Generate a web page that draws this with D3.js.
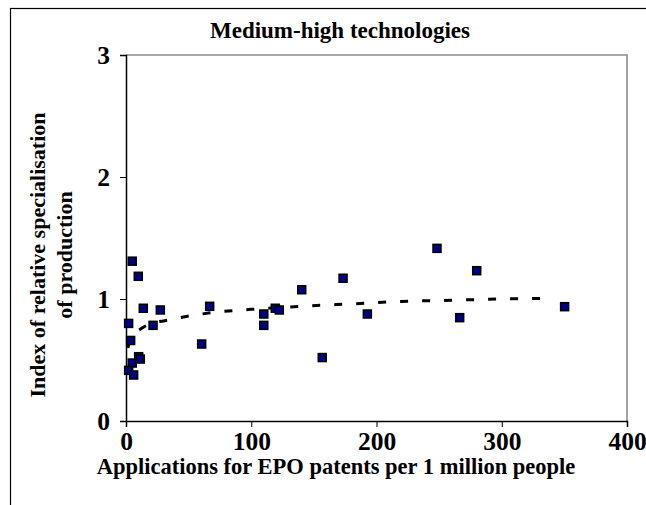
<!DOCTYPE html>
<html>
<head>
<meta charset="utf-8">
<script src="https://cdn.jsdelivr.net/npm/d3@7"></script>
<style>
  body { margin: 0; background: #fff; }
</style>
</head>
<body>
<svg id="chart" width="646" height="505"></svg>
<script>
// patents per 1 million people (x) vs specialisation index (y)
var patents = [5, 9.8, 2.1, 13.8, 27.4, 21.6, 3.7, 10.1, 11.4, 5, 2.1, 6.1, 60.4, 66.8, 110, 110, 119.2, 122.4, 140.3, 173.3, 156.7, 192.7, 248.3, 280, 266.4, 350.2];
var specialisation = [1.31, 1.186, 0.80, 0.924, 0.91, 0.784, 0.66, 0.527, 0.508, 0.475, 0.415, 0.377, 0.631, 0.94, 0.877, 0.784, 0.924, 0.91, 1.076, 1.17, 0.52, 0.877, 1.415, 1.232, 0.847, 0.937];

// trend line
var trendX = [1.5, 3, 6, 11, 20, 30, 50, 70, 100, 140, 180, 220, 260, 300, 340];
var trendY = [0.60, 0.66, 0.71, 0.75, 0.80, 0.82, 0.86, 0.89, 0.915, 0.94, 0.96, 0.98, 0.99, 1.0, 1.005];

var xTicks = [0, 100, 200, 300, 400];
var yTicks = [0, 1, 2, 3];

var svg = d3.select("#chart"),
  margin = { top: 55, left: 126 },
  width = 501,
  height = 366;

var serif = "'Liberation Serif', 'Times New Roman', serif";

// outer chart frame (only top and left visible)
svg.append("rect")
  .attr("x", 10.5).attr("y", 8.5)
  .attr("width", 700).attr("height", 600)
  .attr("fill", "none").attr("stroke", "#000").attr("stroke-width", 1.2);

var x = d3.scaleLinear().domain([0, 400]).range([0, width]),
  y = d3.scaleLinear().domain([0, 3]).range([height, 0]);

var g = svg.append("g")
  .attr("transform", "translate(" + margin.left + "," + margin.top + ")");

// plot area border (top + right, grey)
g.append("path")
  .attr("d", "M0,0H" + width + "V" + height)
  .attr("fill", "none").attr("stroke", "#8c8c8c").attr("stroke-width", 1.6);

var xAxis = g.append("g")
  .attr("transform", "translate(0," + height + ")")
  .call(d3.axisBottom(x).tickValues(xTicks).tickSize(6).tickPadding(5));

var yAxis = g.append("g")
  .call(d3.axisLeft(y).tickValues(yTicks).tickSize(6).tickPadding(10).tickFormat(d3.format("d")));

[xAxis, yAxis].forEach(function (a) {
  a.attr("font-family", null).attr("font-size", null);
  a.select(".domain").attr("stroke", "#000").attr("stroke-width", 1.5);
  a.selectAll(".tick line").attr("stroke", "#000").attr("stroke-width", 1);
  a.selectAll(".tick text")
    .style("font-family", serif)
    .style("font-weight", "bold")
    .style("font-size", "25.5px")
    .attr("fill", "#000");
});

var line = d3.line()
  .x(function (d) { return x(d[0]); })
  .y(function (d) { return y(d[1]); })
  .curve(d3.curveMonotoneX);

g.append("path")
  .datum(d3.zip(trendX, trendY))
  .attr("d", line)
  .attr("fill", "none")
  .attr("stroke", "#000")
  .attr("stroke-width", 3)
  .attr("stroke-dasharray", "8,14");

g.selectAll(".pt")
  .data(d3.zip(patents, specialisation))
  .enter().append("rect")
  .attr("class", "pt")
  .attr("x", function (d) { return x(d[0]) - 4; })
  .attr("y", function (d) { return y(d[1]) - 4; })
  .attr("width", 8)
  .attr("height", 8)
  .attr("fill", "#000080")
  .attr("stroke", "#000")
  .attr("stroke-width", 1.5);

function label(sel) {
  return sel.style("font-family", serif).style("font-weight", "bold").attr("fill", "#000");
}

label(svg.append("text"))
  .attr("x", 340).attr("y", 38)
  .attr("text-anchor", "middle")
  .style("font-size", "23px")
  .text("Medium-high technologies");

label(svg.append("text"))
  .attr("x", 336).attr("y", 474)
  .attr("text-anchor", "middle")
  .style("font-size", "22.5px")
  .text("Applications for EPO patents per 1 million people");

var yTitle = label(svg.append("text"))
  .attr("transform", "translate(45,255) rotate(-90)")
  .attr("text-anchor", "middle")
  .style("font-size", "22px");
yTitle.append("tspan").attr("x", 0).attr("dy", 0).text("Index of relative specialisation");
yTitle.append("tspan").attr("x", 0).attr("dy", 27).text("of production");
</script>
</body>
</html>
